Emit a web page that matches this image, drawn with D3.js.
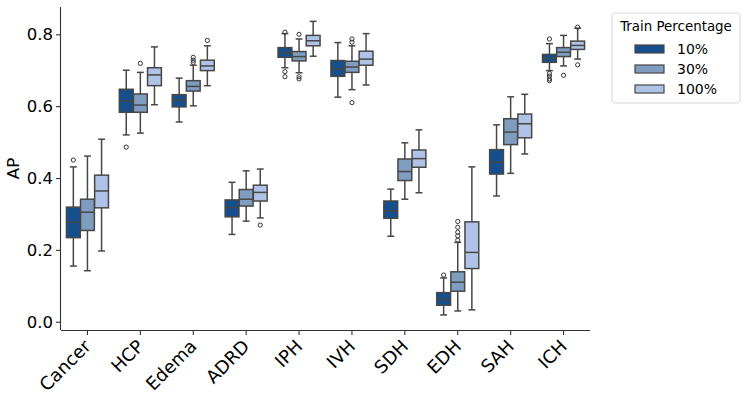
<!DOCTYPE html>
<html>
<head>
<meta charset="utf-8">
<script src="https://cdn.jsdelivr.net/npm/d3@7"></script>
<style>
  html, body { margin: 0; padding: 0; background: #fff; }
  svg { display: block; font-family: "DejaVu Sans", sans-serif; }
</style>
</head>
<body>
<svg id="chart" width="748" height="399"></svg>
<script>
// ---- data ----
const categories = ["Cancer", "HCP", "Edema", "ADRD", "IPH", "IVH", "SDH", "EDH", "SAH", "ICH"];
const seriesNames = ["10%", "30%", "100%"];
const seriesColors = ["#154f8e", "#7f9dbf", "#aec3e6"];
const yTicks = [0.0, 0.2, 0.4, 0.6, 0.8];

// [whisker low, q1, median, q3, whisker high] per category
const stats10 = [
  [0.155, 0.234, 0.277, 0.319, 0.431],
  [0.520, 0.583, 0.615, 0.647, 0.700],
  [0.556, 0.598, 0.617, 0.632, 0.678],
  [0.243, 0.292, 0.318, 0.339, 0.388],
  [0.707, 0.736, 0.749, 0.763, 0.802],
  [0.625, 0.683, 0.704, 0.727, 0.777],
  [0.238, 0.288, 0.309, 0.336, 0.369],
  [0.019, 0.046, 0.062, 0.081, 0.122],
  [0.350, 0.411, 0.444, 0.479, 0.548],
  [0.699, 0.722, 0.733, 0.744, 0.774]
];
const stats30 = [
  [0.142, 0.254, 0.305, 0.341, 0.461],
  [0.525, 0.583, 0.603, 0.634, 0.694],
  [0.601, 0.642, 0.655, 0.671, 0.714],
  [0.280, 0.322, 0.341, 0.368, 0.420],
  [0.693, 0.726, 0.738, 0.752, 0.787],
  [0.646, 0.694, 0.709, 0.725, 0.768],
  [0.341, 0.393, 0.418, 0.453, 0.498],
  [0.030, 0.085, 0.110, 0.139, 0.221],
  [0.413, 0.493, 0.528, 0.565, 0.626],
  [0.712, 0.738, 0.750, 0.763, 0.797]
];
const stats100 = [
  [0.197, 0.317, 0.364, 0.408, 0.508],
  [0.604, 0.657, 0.687, 0.707, 0.765],
  [0.657, 0.699, 0.712, 0.728, 0.768],
  [0.289, 0.336, 0.360, 0.380, 0.425],
  [0.739, 0.768, 0.782, 0.797, 0.836],
  [0.659, 0.714, 0.731, 0.753, 0.802],
  [0.359, 0.430, 0.454, 0.478, 0.534],
  [0.033, 0.148, 0.193, 0.278, 0.431],
  [0.467, 0.512, 0.551, 0.578, 0.633],
  [0.731, 0.758, 0.769, 0.781, 0.817]
];
const outliers10 = [
  [0.450], [0.486], [], [], [0.806, 0.696, 0.682], [], [], [0.130], [], [0.787, 0.691, 0.684, 0.676, 0.671]
];
const outliers30 = [
  [], [0.719], [0.722, 0.728, 0.736], [], [0.800, 0.682, 0.676], [0.778, 0.787, 0.610], [], [0.227, 0.239, 0.249, 0.263, 0.279], [], [0.686]
];
const outliers100 = [
  [], [], [0.783], [0.269], [], [], [], [], [], [0.820, 0.715]
];

const allStats = [stats10, stats30, stats100];
const allOutliers = [outliers10, outliers30, outliers100];

// ---- layout ----
const margin = { left: 61, top: 7, right: 158, bottom: 69 };
const W = 748, H = 399;
const plotW = W - margin.left - margin.right;
const plotH = H - margin.top - margin.bottom;

const svg = d3.select("#chart");
const g = svg.append("g").attr("transform", `translate(${margin.left},${margin.top})`);

const x = d3.scaleBand().domain(categories).range([0, plotW]).padding(0);
const xSeries = d3.scaleBand().domain(seriesNames).range([0, x.bandwidth() * 0.8]).padding(0);
const y = d3.scaleLinear().domain([-0.023, 0.876]).range([plotH, 0]);

const lineColor = "#474747";
const boxW = xSeries.bandwidth();

allStats.forEach((stats, si) => {
  const sg = g.append("g");
  stats.forEach((s, ci) => {
    const cx = x(categories[ci]) + x.bandwidth() * 0.1 + xSeries(seriesNames[si]) + boxW / 2;
    const bw = boxW * 0.98;
    const grp = sg.append("g");
    // whiskers
    grp.append("line").attr("x1", cx).attr("x2", cx).attr("y1", y(s[0])).attr("y2", y(s[1]))
      .attr("stroke", lineColor).attr("stroke-width", 1.5);
    grp.append("line").attr("x1", cx).attr("x2", cx).attr("y1", y(s[3])).attr("y2", y(s[4]))
      .attr("stroke", lineColor).attr("stroke-width", 1.5);
    // caps
    [s[0], s[4]].forEach(v => {
      grp.append("line").attr("x1", cx - bw / 4).attr("x2", cx + bw / 4).attr("y1", y(v)).attr("y2", y(v))
        .attr("stroke", lineColor).attr("stroke-width", 1.5);
    });
    // box
    grp.append("rect").attr("x", cx - bw / 2).attr("width", bw)
      .attr("y", y(s[3])).attr("height", y(s[1]) - y(s[3]))
      .attr("fill", seriesColors[si]).attr("stroke", lineColor).attr("stroke-width", 1.5);
    // median
    grp.append("line").attr("x1", cx - bw / 2).attr("x2", cx + bw / 2).attr("y1", y(s[2])).attr("y2", y(s[2]))
      .attr("stroke", lineColor).attr("stroke-width", 1.5);
    // outliers
    allOutliers[si][ci].forEach(v => {
      grp.append("circle").attr("cx", cx).attr("cy", y(v)).attr("r", 2.1)
        .attr("fill", "none").attr("stroke", "#333").attr("stroke-width", 1);
    });
  });
});

// ---- axes ----
const yAxis = d3.axisLeft(y).tickValues(yTicks).tickFormat(d3.format(".1f")).tickSize(5).tickPadding(3);
const gy = g.append("g").call(yAxis);
gy.select(".domain").attr("d", `M-0.5,${plotH}V0`).attr("stroke", "#333").attr("stroke-width", 1.1);
gy.selectAll(".tick line").attr("stroke", "#333").attr("stroke-width", 1.1);
gy.selectAll(".tick text").attr("font-size", "16.5px").attr("fill", "#000")
  .attr("font-family", "DejaVu Sans, sans-serif");

const xAxis = d3.axisBottom(x).tickSize(5).tickPadding(3);
const gx = g.append("g").attr("transform", `translate(0,${plotH})`).call(xAxis);
gx.select(".domain").attr("d", `M0,0.5H${plotW}`).attr("stroke", "#333").attr("stroke-width", 1.1);
gx.selectAll(".tick line").attr("stroke", "#333").attr("stroke-width", 1.1);
gx.selectAll(".tick text")
  .attr("font-size", "18px").attr("fill", "#000").attr("font-family", "DejaVu Sans, sans-serif")
  .attr("text-anchor", "end")
  .attr("dy", "0.35em")
  .attr("transform", "translate(0,13) rotate(-45)")
  .attr("y", 0).attr("x", 0);

// y label
svg.append("text")
  .attr("transform", `translate(19,${margin.top + plotH / 2}) rotate(-90)`)
  .attr("text-anchor", "middle")
  .attr("font-size", "16.5px")
  .text("AP");

// ---- legend ----
const lg = svg.append("g").attr("transform", "translate(612,13)");
lg.append("rect").attr("x", 0).attr("y", 0).attr("width", 128).attr("height", 90)
  .attr("rx", 3).attr("fill", "#fff").attr("stroke", "#d6d6d6").attr("stroke-width", 1);
lg.append("text").attr("x", 64).attr("y", 18).attr("text-anchor", "middle")
  .attr("font-size", "13.4px").text("Train Percentage");
seriesNames.forEach((name, i) => {
  const yy = 36 + i * 20;
  lg.append("rect").attr("x", 23).attr("y", yy - 4).attr("width", 29).attr("height", 8)
    .attr("fill", seriesColors[i]).attr("stroke", lineColor).attr("stroke-width", 1.2);
  lg.append("text").attr("x", 65).attr("y", yy).attr("dy", "0.35em")
    .attr("font-size", "14px").text(name);
});
</script>
</body>
</html>
